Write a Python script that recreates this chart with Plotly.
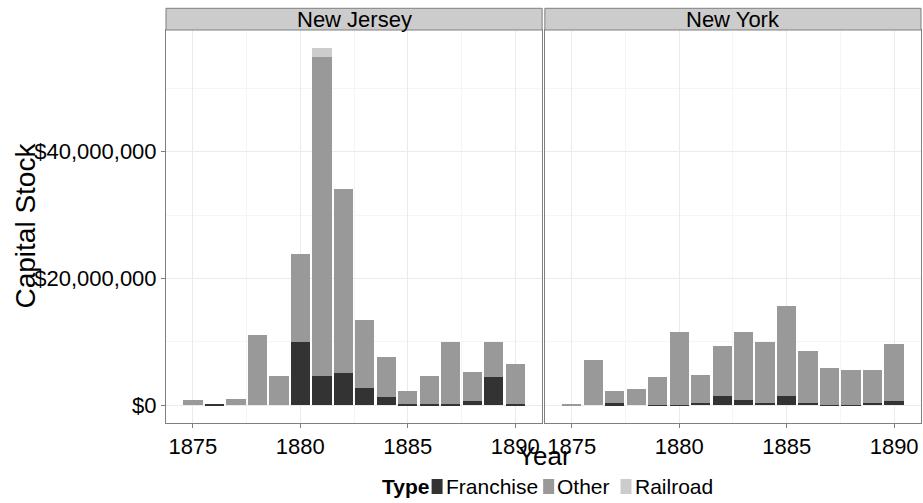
import plotly.graph_objects as go
from plotly.subplots import make_subplots

years = list(range(1875, 1891))
states = ["New Jersey", "New York"]
types = ["Franchise", "Other", "Railroad"]
type_colors = ["#333333", "#999999", "#CCCCCC"]

# capital stock, millions of dollars
nj_franchise = [0, 0.25, 0, 0, 0, 10.0, 4.6, 5.1, 2.7, 1.3, 0.15, 0.15, 0.15, 0.7, 4.5, 0.15]
nj_other = [0.8, 0, 1.0, 11.05, 4.6, 13.8, 50.3, 29.0, 10.7, 6.3, 2.05, 4.45, 9.8, 4.55, 5.45, 6.35]
nj_railroad = [0, 0, 0, 0, 0, 0, 1.5, 0, 0, 0, 0, 0, 0, 0, 0, 0]
ny_franchise = [0, 0, 0.26, 0, 0.1, 0.1, 0.4, 1.5, 0.74, 0.4, 1.37, 0.4, 0.1, 0.1, 0.4, 0.6]
ny_other = [0.1, 7.2, 1.9, 2.6, 4.3, 11.4, 4.4, 7.9, 10.76, 9.5, 14.23, 8.1, 5.7, 5.5, 5.1, 9.0]
ny_railroad = [0] * 16

y_tickvals = [0, 20, 40]
y_ticktext = ["$0", "$20,000,000", "$40,000,000"]
x_tickvals = [1875, 1880, 1885, 1890]

W, H = 923, 503
ML, MR, MT, MB = 166, 1.7, 30, 80
PW = W - ML - MR
PH = H - MT - MB

def px_x(p):
    return (p - ML) / PW

def px_y(p):
    return (H - MB - p) / PH

FONT = "Liberation Sans, Arial, sans-serif"

fig = make_subplots(rows=1, cols=2, shared_yaxes=True, horizontal_spacing=0.004)

data = {
    "New Jersey": [nj_franchise, nj_other, nj_railroad],
    "New York": [ny_franchise, ny_other, ny_railroad],
}
for ci, st in enumerate(states):
    for ti, t in enumerate(types):
        fig.add_trace(go.Bar(x=years, y=data[st][ti], name=t, width=0.9,
                             marker=dict(color=type_colors[ti], line=dict(width=0)),
                             showlegend=False), row=1, col=ci + 1)

fig.update_layout(barmode="stack", width=W, height=H,
                  margin=dict(l=ML, r=MR, t=MT, b=MB, autoexpand=False),
                  paper_bgcolor="white", plot_bgcolor="white",
                  font=dict(family=FONT, color="black"))

left_end = px_x(542.3)
right_start = px_x(545)
fig.update_xaxes(range=[1873.75, 1891.25], tickvals=x_tickvals,
                 showgrid=True, gridcolor="#EBEBEB", gridwidth=1,
                 minor=dict(tickvals=[1877.5, 1882.5, 1887.5], showgrid=True, gridcolor="#F5F5F5", ticks=""),
                 showline=True, mirror=True, linecolor="#7F7F7F", linewidth=1,
                 ticks="outside", ticklen=4, tickcolor="#7F7F7F",
                 tickfont=dict(size=22, family=FONT, color="black"), zeroline=False)
fig.update_xaxes(domain=[0, left_end], row=1, col=1)
fig.update_xaxes(domain=[right_start, 1], row=1, col=2)
fig.update_yaxes(range=[-2.82, 59.22], tickvals=y_tickvals, ticktext=y_ticktext,
                 showgrid=True, gridcolor="#EBEBEB", gridwidth=1,
                 minor=dict(tickvals=[10, 30, 50], showgrid=True, gridcolor="#F5F5F5", ticks=""),
                 showline=True, mirror=True, linecolor="#7F7F7F", linewidth=1,
                 zeroline=False, tickfont=dict(size=22, family=FONT, color="black"))
fig.update_yaxes(ticks="outside", ticklen=4, tickcolor="#7F7F7F", row=1, col=1)
fig.update_yaxes(ticks="", row=1, col=2)

# facet strips
strip_y0 = 1.0
strip_y1 = px_y(8.3)
for (x0, x1), st in zip([(0, left_end), (right_start, 1)], states):
    fig.add_shape(type="rect", xref="paper", yref="paper", x0=x0, x1=x1, y0=strip_y0, y1=strip_y1,
                  fillcolor="#CCCCCC", line=dict(color="#7F7F7F", width=1))
    fig.add_annotation(text=st, xref="paper", yref="paper", x=(x0 + x1) / 2, y=(strip_y0 + strip_y1) / 2,
                       showarrow=False, xanchor="center", yanchor="middle",
                       font=dict(size=22, family=FONT, color="black"))

# axis titles
fig.add_annotation(text="Year", xref="paper", yref="paper", x=px_x(545), y=px_y(456),
                   showarrow=False, xanchor="center", yanchor="middle",
                   font=dict(size=26, family=FONT, color="black"))
fig.add_annotation(text="Capital Stock", xref="paper", yref="paper", x=px_x(25), y=px_y(225.5),
                   showarrow=False, xanchor="center", yanchor="middle", textangle=-90,
                   font=dict(size=28, family=FONT, color="black"))

# legend
leg_y = 486
fig.add_annotation(text="<b>Type</b>", xref="paper", yref="paper", x=px_x(380), y=px_y(leg_y),
                   showarrow=False, xanchor="left", yanchor="middle",
                   font=dict(size=21, family=FONT, color="black"))
key_x = [431.7, 543.3, 620.7]
lab_x = [444, 555.5, 633]
for t, c, kx, lx in zip(types, type_colors, key_x, lab_x):
    fig.add_shape(type="rect", xref="paper", yref="paper", x0=px_x(kx), x1=px_x(kx + 11),
                  y0=px_y(494), y1=px_y(479), fillcolor=c, line=dict(width=0))
    fig.add_annotation(text=t, xref="paper", yref="paper", x=px_x(lx), y=px_y(leg_y),
                       showarrow=False, xanchor="left", yanchor="middle",
                       font=dict(size=21, family=FONT, color="black"))

fig.write_html("out.html", config={"displayModeBar": False},
               post_script="document.body.style.margin='0';"
                           "document.body.style.overflow='hidden';"
                           "document.documentElement.style.overflow='hidden';")
